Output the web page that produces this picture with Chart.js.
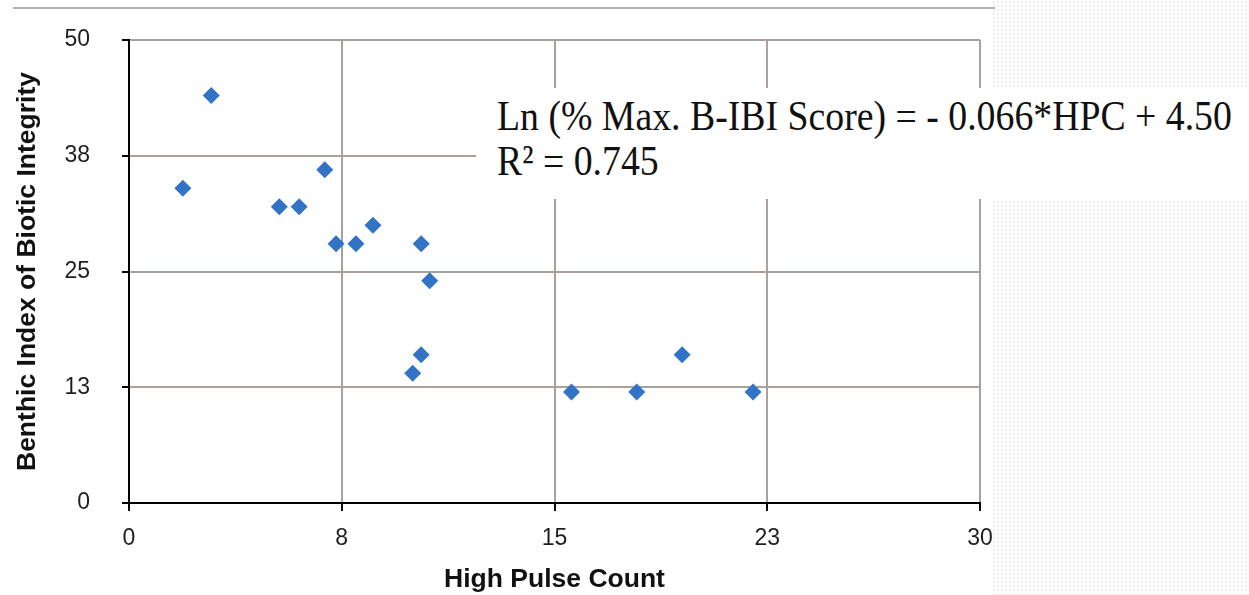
<!DOCTYPE html>
<html>
<head>
<meta charset="utf-8">
<script src="https://cdn.jsdelivr.net/npm/chart.js@4/dist/chart.umd.min.js"></script>
<style>
  html, body { margin: 0; padding: 0; }
  body {
    width: 1249px; height: 595px; position: relative; overflow: hidden;
    background-color: #ffffff;
    background-image: radial-gradient(#ececec 0.7px, transparent 1px);
    background-size: 4px 4px;
  }
  #paper { position: absolute; left: 0; top: 0; width: 993px; height: 595px; background: #fff; }
  #topline { position: absolute; left: 13px; top: 7px; width: 982px; height: 2px; background: #b8b2b0; }
  #wrap { position: absolute; left: 0; top: 0; width: 1249px; height: 595px; }
  #eq {
    position: absolute; left: 476px; top: 88px; width: 773px; height: 111px;
    background: #fff; font-family: "Liberation Serif", "DejaVu Serif", serif;
    color: #111; white-space: nowrap;
  }
  #eq div { position: absolute; left: 21px; }
</style>
</head>
<body>
<div id="paper"></div>
<div id="topline"></div>
<div id="wrap"><canvas id="chart" width="1249" height="595"></canvas></div>
<div id="eq">
  <div id="eq1">Ln (% Max. B-IBI Score) = - 0.066*HPC + 4.50</div>
  <div id="eq2">R² = 0.745</div>
</div>
<script>
// High pulse count vs. B-IBI score
var highPulseCount = [1.9, 2.9, 5.3, 6.0, 6.9, 7.3, 8.0, 8.6, 10.3, 10.6, 10.3, 10.0, 15.6, 17.9, 19.5, 22.0];
var bibiScore      = [34,  44,  32,  32,  36,  28,  28,  30,  28,   24,   16,   14,   12,   12,   16,   12];

var xTickLabels = ['0', '8', '15', '23', '30'];
var yTickLabels = ['0', '13', '25', '38', '50'];

var points = highPulseCount.map(function (x, i) {
    return { x: x, y: bibiScore[i] };
});

var GRID = '#a8a19e';
var TICK_FONT = { family: '"Liberation Sans", Arial, sans-serif', size: 23 };
var TITLE_FONT = { family: '"Liberation Sans", Arial, sans-serif', size: 26.5, weight: 'bold', lineHeight: 1.15 };

new Chart(document.getElementById('chart').getContext('2d'), {
    type: 'scatter',
    data: {
        datasets: [{
            data: points,
            pointStyle: 'rectRot',
            pointRadius: 8.5,
            pointHoverRadius: 8.5,
            backgroundColor: '#3273c6',
            borderColor: '#3273c6',
            borderWidth: 0
        }]
    },
    options: {
        responsive: false,
        animation: false,
        events: [],
        layout: { padding: { left: 0, top: 40, right: 269, bottom: 0 } },
        plugins: {
            legend: { display: false },
            tooltip: { enabled: false }
        },
        scales: {
            x: {
                type: 'linear',
                min: 0, max: 30,
                afterFit: function (s) { s.height = 92; },
                border: { color: '#000', width: 2 },
                grid: { color: GRID, lineWidth: 2, tickLength: 8, tickColor: '#000', tickWidth: 2 },
                ticks: {
                    stepSize: 7.5,
                    padding: 14,
                    color: '#1e1e1e',
                    font: TICK_FONT,
                    maxRotation: 0,
                    callback: function (v, i) { return xTickLabels[i]; }
                },
                title: {
                    display: true, text: 'High Pulse Count', color: '#111',
                    font: TITLE_FONT, padding: { top: 0, bottom: 0 }
                }
            },
            y: {
                type: 'linear',
                min: 0, max: 50,
                // wide label gap, but don't let it push the plot area down
                afterFit: function (s) { s.width = 129; s.paddingTop = 14; s.paddingBottom = 14; },
                border: { color: '#000', width: 2 },
                grid: { color: GRID, lineWidth: 2, tickLength: 7, tickColor: '#000', tickWidth: 2 },
                ticks: {
                    stepSize: 12.5,
                    padding: 32,
                    color: '#1e1e1e',
                    font: TICK_FONT,
                    callback: function (v, i) { return yTickLabels[i]; }
                },
                title: {
                    display: true, text: 'Benthic Index of Biotic Integrity', color: '#111',
                    font: TITLE_FONT, padding: { top: 12, bottom: 0 }
                }
            }
        }
    },
    plugins: [{
        id: 'whitePlot',
        beforeDraw: function (chart) {
            var a = chart.chartArea, c = chart.ctx;
            c.save();
            c.fillStyle = '#fff';
            c.fillRect(a.left, a.top, a.right - a.left, a.bottom - a.top);
            c.restore();
        }
    }]
});

// fit the equation text to the width it has in the figure
(function () {
    var l1 = document.getElementById('eq1'), l2 = document.getElementById('eq2');
    var m = document.createElement('canvas').getContext('2d');
    m.font = '100px "Liberation Serif"';
    var w = m.measureText(l1.textContent).width;
    var size = 100 * 735 / w;
    [l1, l2].forEach(function (el) {
        el.style.fontSize = size + 'px';
        el.style.lineHeight = '1';
        el.style.transformOrigin = '0 ' + (size * 0.891) + 'px';
        el.style.transform = 'scaleY(1.12)';
    });
    // baselines at y=133 and y=178 (page), box top at 88
    l1.style.top = (133 - 88 - size * 0.891) + 'px';
    l2.style.top = (178 - 88 - size * 0.891) + 'px';
})();
</script>
</body>
</html>
